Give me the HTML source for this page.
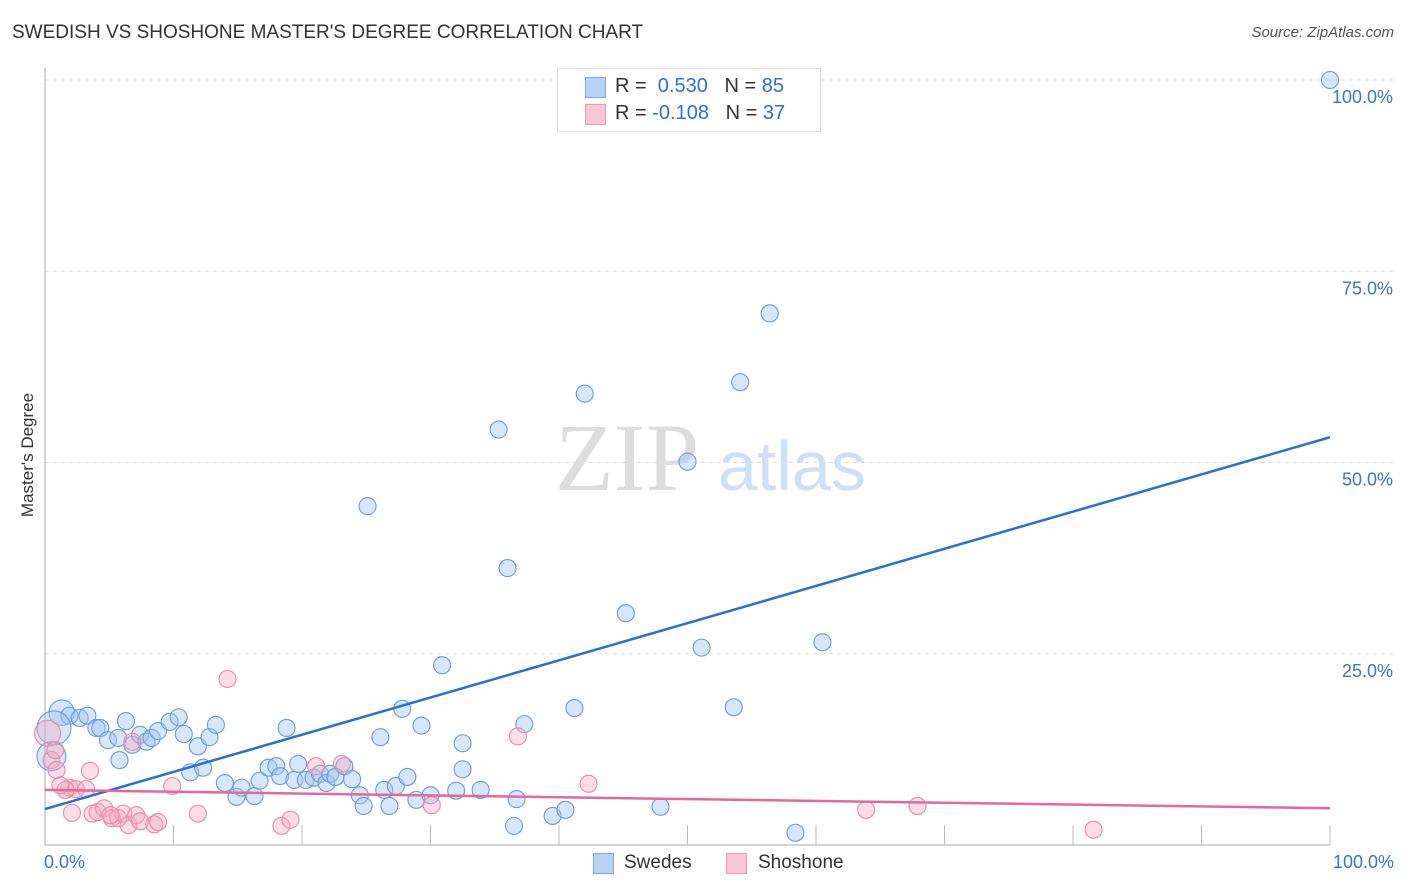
<!DOCTYPE html>
<html><head><meta charset="utf-8">
<style>
body{margin:0;background:#fff;font-family:"Liberation Sans",sans-serif}
#wrap{position:relative;width:1406px;height:892px}
.t{position:absolute;white-space:nowrap}
</style></head><body>
<div id="wrap">
<div class="t" style="left:12px;top:22px;font-size:19px;color:#333">SWEDISH VS SHOSHONE MASTER'S DEGREE CORRELATION CHART</div>
<div class="t" style="right:12px;top:24px;font-size:15px;color:#555;font-style:italic">Source: ZipAtlas.com</div>
<svg id="svg" width="1406" height="892" style="position:absolute;left:0;top:0"></svg>
</div>
<script>
const blueX=[100,56.4,54.1,42.0,35.3,50.0,25.1,36.0,45.2,60.5,51.1,30.9,53.6,41.2,27.8,37.3,29.3,26.1,32.5,18.8,1.3,1.9,2.7,3.3,4.0,4.3,6.3,4.9,5.7,6.8,7.4,7.9,8.3,8.8,9.7,10.4,10.8,11.9,12.8,13.3,5.8,11.3,12.3,14.0,14.9,15.3,16.3,16.7,17.4,18.0,18.3,19.4,19.7,20.3,20.9,21.4,21.9,22.2,22.6,23.3,23.9,24.5,24.8,26.4,26.8,27.3,28.2,28.9,30.0,32.0,32.5,33.9,36.7,36.5,39.5,40.5,47.9,58.4,0.7,0.5];
const blueY=[100,69.5,60.5,59.0,54.3,50.1,44.3,36.2,30.3,26.5,25.8,23.5,18.0,17.9,17.8,15.8,15.6,14.1,13.3,15.3,17.3,16.9,16.6,16.9,15.3,15.3,16.2,13.7,14.0,13.1,14.4,13.5,14.0,14.9,16.1,16.7,14.5,12.9,14.1,15.7,11.1,9.5,10.1,8.1,6.3,7.5,6.4,8.4,10.1,10.3,9.0,8.5,10.6,8.5,8.8,9.3,8.1,9.3,8.9,10.3,8.6,6.5,5.1,7.2,5.1,7.7,8.9,5.9,6.5,7.1,9.9,7.2,6.0,2.5,3.8,4.6,5.0,1.6,15.3,11.6];
const blueSize=[1,1,1,1,1,1,1,1,1,1,1,1,1,1,1,1,1,1,1,1,1.5,1,1,1,1,1,1,1,1,1,1,1,1,1,1,1,1,1,1,1,1,1,1,1,1,1,1,1,1,1,1,1,1,1,1,1,1,1,1,1,1,1,1,1,1,1,1,1,1,1,1,1,1,1,1,1,1,1,2,1.7];
const pinkX=[14.2,0.2,0.5,0.9,3.5,1.9,2.4,3.2,1.6,2.1,3.7,4.1,4.6,5.2,5.7,6.1,6.5,7.1,7.4,8.5,8.8,9.9,6.8,11.9,18.4,19.1,21.1,23.1,30.1,36.8,42.3,63.9,67.9,81.6,0.8,1.2,5.1];
const pinkY=[21.7,14.6,11.1,9.8,9.7,7.5,7.3,7.3,7.2,4.2,4.1,4.3,4.8,3.5,3.5,4.1,2.6,3.9,3.1,2.7,3.0,7.7,13.5,4.1,2.5,3.3,10.3,10.6,5.2,14.2,8.0,4.6,5.1,2.0,12.4,7.8,3.9];
const blueTrend=[4.7,53.3];
const pinkTrend=[7.2,4.8];
const yTicks=[25,50,75,100];
const yTickLabels=["25.0%","50.0%","75.0%","100.0%"];

const NS="http://www.w3.org/2000/svg";
const svg=document.getElementById('svg');
const X0=45,X1=1330,Y0=845,Y1=80;
const sx=v=>X0+(X1-X0)*v/100, sy=v=>Y0-(Y0-Y1)*v/100;
function mk(tag,a){const e=document.createElementNS(NS,tag);for(const k in a)e.setAttribute(k,a[k]);svg.appendChild(e);return e;}
yTicks.forEach((t,i)=>{
 const g=mk('line',{x1:X0,x2:1395,y1:sy(t),y2:sy(t),stroke:'#ddd','stroke-dasharray':'4,4'});
 
 
 const tx=mk('text',{x:1393,y:sy(t)+23,'text-anchor':'end','font-size':18,fill:'#3a75d0','font-family':'Liberation Sans'});
 tx.textContent=yTickLabels[i];
 
 
});
let ax=mk('line',{x1:X0,x2:X0,y1:68,y2:Y0,stroke:'#aaa'});


ax=mk('line',{x1:X0,x2:X1,y1:Y0,y2:Y0,stroke:'#aaa'});


for(let i=1;i<=10;i++){
 const tk=mk('line',{x1:sx(i*10),x2:sx(i*10),y1:Y0-20,y2:Y0,stroke:'#bbb'});
 
 
}
let wm=mk('text',{x:555,y:490,'font-size':96,fill:'#ddd','font-family':'Liberation Serif'});wm.textContent='ZIP';


wm=mk('text',{x:718,y:490,'font-size':70,fill:'#cfe0f5','font-family':'Liberation Sans'});wm.textContent='atlas';


blueX.forEach((x,i)=>{
 const c=mk('circle',{cx:sx(x),cy:sy(blueY[i]),r:8.5*blueSize[i],fill:'rgba(160,196,240,0.42)',stroke:'#6a9be0','stroke-width':1.1});
 
 
});
pinkX.forEach((x,i)=>{
 const c=mk('circle',{cx:sx(x),cy:sy(pinkY[i]),r:i==1?13:8.5,fill:'rgba(245,170,195,0.4)',stroke:'#e98aaa','stroke-width':1.1});
 
 
});
let tl=mk('line',{x1:sx(0),x2:sx(100),y1:sy(blueTrend[0]),y2:sy(blueTrend[1]),stroke:'#2a6fd6','stroke-width':2.5});


tl=mk('line',{x1:sx(0),x2:sx(100),y1:sy(pinkTrend[0]),y2:sy(pinkTrend[1]),stroke:'#e8679a','stroke-width':2.5});


</script>
<div class="t" style="left:44px;top:852px;font-size:18px;color:#3a75d0">0.0%</div>
<div class="t" style="right:12px;top:852px;font-size:18px;color:#3a75d0">100.0%</div>
<div class="t" style="left:-34px;top:445px;font-size:17px;color:#333;transform:rotate(-90deg)">Master's Degree</div>
<div style="position:absolute;left:557px;top:68px;width:262px;height:62px;border:1px solid #ddd;background:#fff;font-size:20px">
 <div style="position:absolute;left:27px;top:8px;width:19px;height:19px;background:#b8d2f5;border:1px solid #7fa8e3"></div>
 <div class="t" style="left:57px;top:6px;color:#333">R = <span style="color:#2f6fd0">&nbsp;0.530</span>&nbsp;&nbsp;&nbsp;N = <span style="color:#2f6fd0">85</span></div>
 <div style="position:absolute;left:27px;top:35px;width:19px;height:19px;background:#f9c6d6;border:1px solid #eb9ab4"></div>
 <div class="t" style="left:57px;top:33px;color:#333">R = <span style="color:#2f6fd0">-0.108</span>&nbsp;&nbsp;&nbsp;N = <span style="color:#2f6fd0">37</span></div>
</div>
<div style="position:absolute;left:593px;top:853px;font-size:19px;color:#333">
 <div style="position:absolute;left:0;top:0;width:120px">
  <div style="position:absolute;left:0;top:0;width:19px;height:19px;background:#b8d2f5;border:1px solid #7fa8e3"></div>
  <div class="t" style="left:31px;top:-1px">Swedes</div></div>
 <div style="position:absolute;left:133px;top:0;width:140px">
  <div style="position:absolute;left:0;top:0;width:19px;height:19px;background:#f9c6d6;border:1px solid #eb9ab4"></div>
  <div class="t" style="left:32px;top:-1px">Shoshone</div></div>
</div>
</body></html>
